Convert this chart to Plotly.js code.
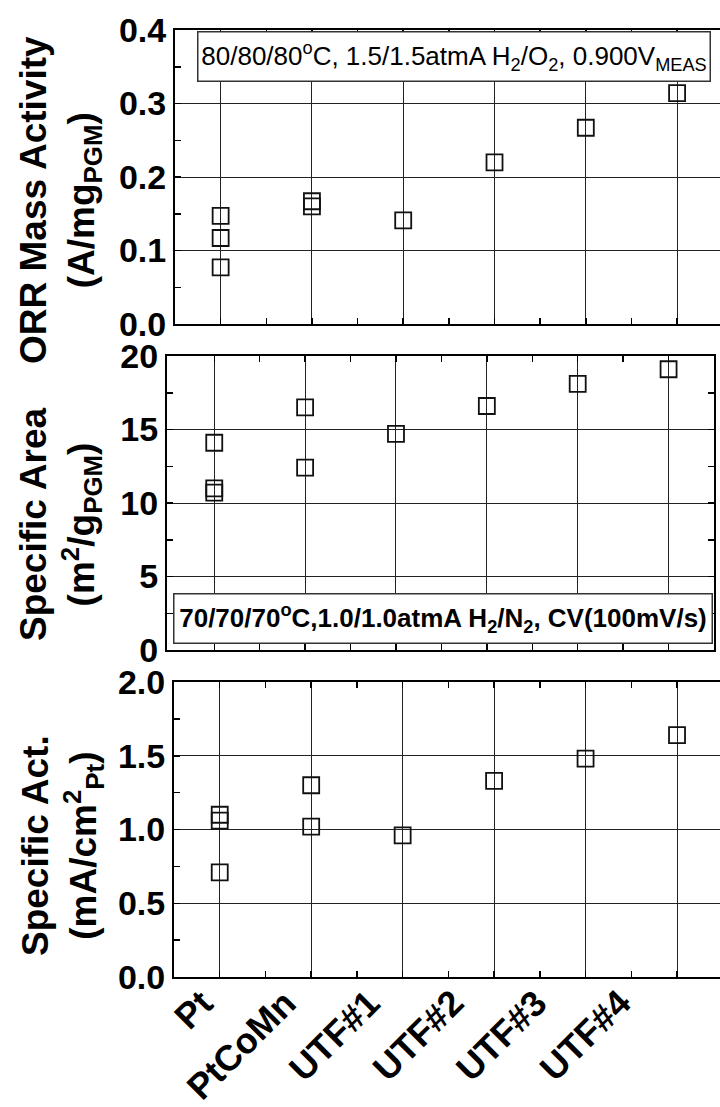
<!DOCTYPE html>
<html>
<head>
<meta charset="utf-8">
<script src="https://cdn.plot.ly/plotly-3.0.1.min.js"></script>
<style>
  html, body { margin: 0; padding: 0; background: #fff; }
  #chart { width: 720px; height: 1107px; }
</style>
</head>
<body>
<div id="chart"></div>
<script>
// Catalyst labels along the shared x axis
const categories = ['Pt', 'PtCoMn', 'UTF#1', 'UTF#2', 'UTF#3', 'UTF#4'];

// ORR mass activity (A/mg_PGM), one list of repeat measurements per catalyst
const massActivity = [[0.147, 0.117, 0.077], [0.167, 0.160], [0.141], [0.220], [0.267], [0.314]];

// Specific area (m^2/g_PGM)
const specificArea = [[14.1, 11.0, 10.7], [16.5, 12.4], [14.7], [16.6], [18.1], [19.1]];

// Specific activity (mA/cm^2_Pt)
const specificActivity = [[1.10, 1.06, 0.71], [1.30, 1.02], [0.96], [1.33], [1.48], [1.64]];

// Axis tick values
const massTicks = [0, 0.1, 0.2, 0.3, 0.4];
const areaTicks = [0, 5, 10, 15, 20];
const actTicks = [0, 0.5, 1.0, 1.5, 2.0];

const W = 720, H = 1107;
const px = v => v / W;            // horizontal pixel -> paper fraction
const py = v => 1 - v / H;        // vertical pixel -> paper fraction

const catIdx = categories.map((_, i) => i);
const minorX = categories.slice(0, -1).map((_, i) => i + 0.5);

function flatten(groups) {
  const x = [], y = [];
  groups.forEach((vals, i) => vals.forEach(v => { x.push(i); y.push(v); }));
  return { x, y };
}

const markerStyle = {
  symbol: 'square-open',
  size: 16,
  color: '#111',
  line: { width: 1.8, color: '#111' }
};

function series(groups, xa, ya) {
  const d = flatten(groups);
  return {
    type: 'scatter', mode: 'markers',
    x: d.x, y: d.y, xaxis: xa, yaxis: ya,
    marker: markerStyle, hoverinfo: 'x+y', cliponaxis: false
  };
}

const data = [
  series(massActivity, 'x', 'y'),
  series(specificArea, 'x2', 'y2'),
  series(specificActivity, 'x3', 'y3')
];

const tickFont = { family: 'Liberation Sans, Arial, sans-serif', size: 34, color: '#000', weight: 700 };
const catFont = { family: 'Liberation Sans, Arial, sans-serif', size: 36, color: '#000', weight: 700 };
const gridColor = '#222';

function xAxis(domain, range, anchor) {
  return {
    domain, range, anchor,
    tickmode: 'array', tickvals: catIdx, ticktext: categories,
    showticklabels: false,
    ticks: 'inside', ticklen: 6, tickwidth: 1.5, tickcolor: '#000',
    showgrid: true, gridcolor: gridColor, gridwidth: 1,
    showline: true, linecolor: '#000', linewidth: 2, mirror: 'ticks',
    zeroline: false, fixedrange: true,
    minor: { tickmode: 'array', tickvals: minorX, ticks: 'inside', ticklen: 6, tickwidth: 1.5, tickcolor: '#000', showgrid: false }
  };
}

function yAxis(domain, ticks, fmt, anchor, mirror) {
  const step = ticks[1] - ticks[0];
  return {
    domain, anchor,
    range: [ticks[0], ticks[ticks.length - 1]],
    tickmode: 'array', tickvals: ticks, tickformat: fmt,
    tickfont: tickFont, ticks: 'inside', ticklen: 6, tickwidth: 1.5, tickcolor: '#000',
    showgrid: true, gridcolor: gridColor, gridwidth: 1,
    showline: true, linecolor: '#000', linewidth: 2, mirror: mirror,
    zeroline: false, fixedrange: true,
    minor: { dtick: step / 2, tick0: ticks[0], ticks: 'inside', ticklen: 6, tickwidth: 1.5, tickcolor: '#000', showgrid: false }
  };
}

const titleFont = { family: 'Liberation Sans, Arial, sans-serif', size: 37, color: '#000', weight: 700 };
const boxFontFamily = 'Liberation Sans, Arial, sans-serif';

// Slanted catalyst names under the bottom panel, set a little tighter than the ticks
const categoryLabels = categories.map((name, i) => ({
  xref: 'x3', yref: 'paper',
  x: 0.04 + 0.913 * i, y: py(979),
  xanchor: 'right', yanchor: 'top', showarrow: false,
  textangle: -45, text: name, font: catFont
}));

const layout = {
  width: W, height: H,
  margin: { l: 0, r: 0, t: 0, b: 0, pad: 0 },
  paper_bgcolor: '#fff', plot_bgcolor: '#fff',
  showlegend: false,
  xaxis: xAxis([px(175), 1], [-0.5, 5.47], 'y'),
  yaxis: yAxis([py(324), py(30)], massTicks, '.1f', 'x', false),
  xaxis2: xAxis([px(167), px(714)], [-0.52, 5.5], 'y2'),
  yaxis2: yAxis([py(650), py(356)], areaTicks, 'd', 'x2', 'ticks'),
  xaxis3: xAxis([px(174), 1], [-0.5, 5.47], 'y3'),
  yaxis3: yAxis([py(977), py(682)], actTicks, '.1f', 'x3', false),
  annotations: [
    {
      xref: 'paper', yref: 'paper', x: px(453.5), y: py(57),
      xanchor: 'center', yanchor: 'middle', showarrow: false,
      text: '80/80/80<sup>o</sup>C, 1.5/1.5atmA H<sub>2</sub>/O<sub>2</sub>, 0.900V<sub>MEAS</sub>',
      font: { family: boxFontFamily, size: 26, color: '#000' },
      bgcolor: '#fff', bordercolor: '#333', borderwidth: 1.5, borderpad: 0,
      width: 511, height: 48
    },
    {
      xref: 'paper', yref: 'paper', x: px(442.5), y: py(618),
      xanchor: 'center', yanchor: 'middle', showarrow: false,
      text: '70/70/70<sup>o</sup>C,1.0/1.0atmA H<sub>2</sub>/N<sub>2</sub>, CV(100mV/s)',
      font: { family: boxFontFamily, size: 26, color: '#000', weight: 700 },
      bgcolor: '#fff', bordercolor: '#333', borderwidth: 1.5, borderpad: 0,
      width: 537, height: 48
    },
    {
      xref: 'paper', yref: 'paper', x: px(60), y: py(200),
      xanchor: 'center', yanchor: 'middle', showarrow: false, textangle: -90,
      text: 'ORR Mass Activity<br>(A/mg<sub>PGM</sub>)', font: titleFont
    },
    {
      xref: 'paper', yref: 'paper', x: px(60), y: py(525),
      xanchor: 'center', yanchor: 'middle', showarrow: false, textangle: -90,
      text: 'Specific Area<br>(m<sup>2</sup>/g<sub>PGM</sub>)', font: titleFont
    },
    {
      xref: 'paper', yref: 'paper', x: px(62), y: py(846),
      xanchor: 'center', yanchor: 'middle', showarrow: false, textangle: -90,
      text: 'Specific Act.<br>(mA/cm<sup>2</sup><sub>Pt</sub>)', font: titleFont
    }
  ].concat(categoryLabels)
};

Plotly.newPlot('chart', data, layout, { staticPlot: true, displayModeBar: false });
</script>
</body>
</html>
